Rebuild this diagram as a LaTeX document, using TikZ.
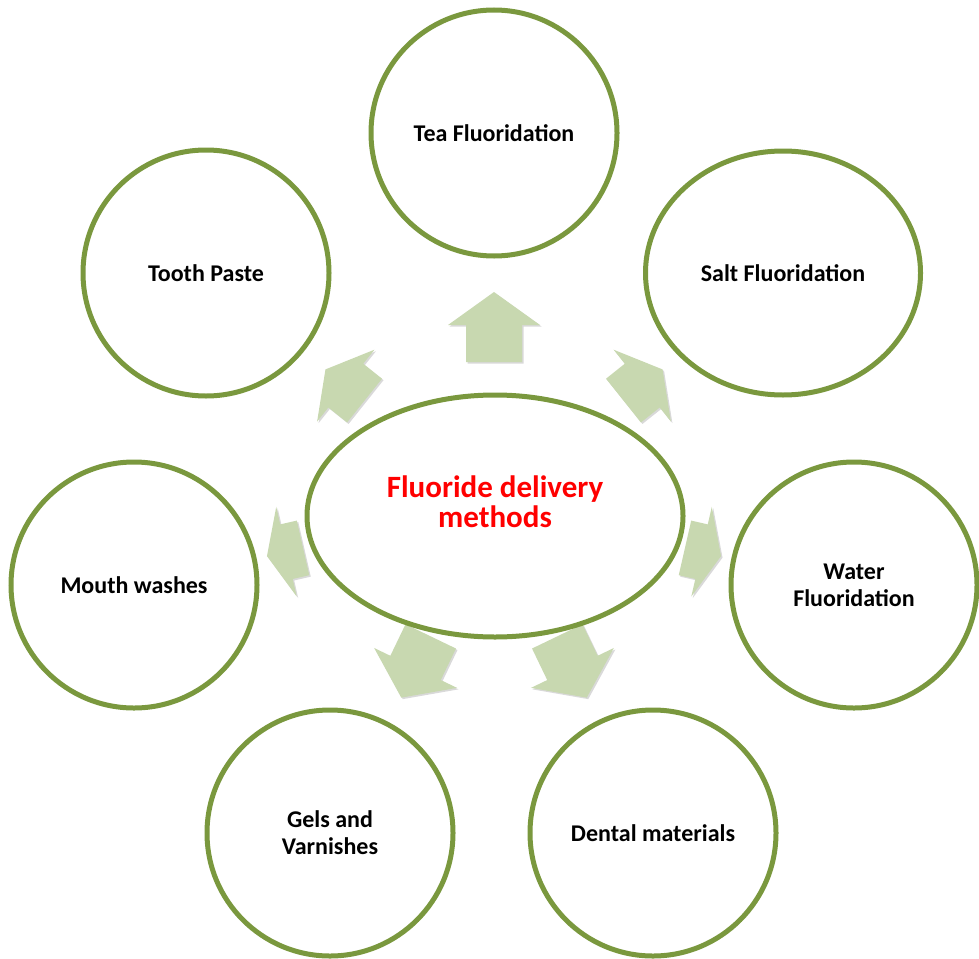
\documentclass[tikz,border=0pt]{standalone}
\usepackage{fontspec}
\setmainfont{Carlito}
\usetikzlibrary{shadows,shapes.geometric}
\definecolor{ringgreen}{RGB}{122,152,62}
\definecolor{arrowgreen}{RGB}{200,216,176}
\tikzset{
  ring/.style={circle, draw=ringgreen, line width=5pt, fill=white, minimum size=246pt,
    inner sep=0pt, font=\bfseries\fontsize{24}{27}\selectfont, align=center, text=black},
  widering/.style={ring, ellipse, minimum width=275pt, minimum height=244pt},
  hub/.style={ellipse, draw=ringgreen, line width=5pt, fill=white, minimum width=376pt,
    minimum height=242pt, inner sep=0pt},
  hubtext/.style={font=\bfseries\fontsize{31}{30}\selectfont, align=center, text=red, inner sep=0pt},
  blockarrow/.style={fill=arrowgreen, drop shadow={shadow xshift=1.5pt, shadow yshift=-1.5pt, opacity=0.25, fill=black!60}},
}
% x, y, angle, length, head length
\newcommand\blockarr[5]{%
  \path[blockarrow, shift={(#1,#2)}, rotate=#3]
    ({-#4/2},-28) -- ({#4/2-#5},-28) -- ({#4/2-#5},-46) -- ({#4/2},0)
    -- ({#4/2-#5},46) -- ({#4/2-#5},28) -- ({-#4/2},28) -- cycle;}
\begin{document}
\begin{tikzpicture}[x=1pt,y=-1pt]
  \useasboundingbox (0,0) rectangle (979,958);
  % arrows
  \blockarr{494}{327}{90}{70}{33}
  \blockarr{643}{385}{38.57}{50}{26}
  \blockarr{703}{552}{-12.86}{37}{20}
  \blockarr{572}{667}{-64.29}{68}{33}
  \blockarr{416}{667}{-115.71}{68}{33}
  \blockarr{285}{552}{192.86}{37}{20}
  \blockarr{345}{385}{141.43}{50}{26}
  % nodes
  \node[hub]  (hub)    at (495,516) {};
  \node[hubtext] (title) at (495,502) {Fluoride delivery\\methods};
  \node[ring] (tea)    at (494,133) {Tea Fluoridation};
  \node[widering] (salt) at (783,273) {Salt Fluoridation};
  \node[ring] (water)  at (854,585) {Water\\Fluoridation};
  \node[ring] (dental) at (653,833) {Dental materials};
  \node[ring] (gels)   at (330,833) {Gels and\\Varnishes};
  \node[ring] (mouth)  at (134,585) {Mouth washes};
  \node[ring] (tooth)  at (206,273) {Tooth Paste};
\end{tikzpicture}
\end{document}
